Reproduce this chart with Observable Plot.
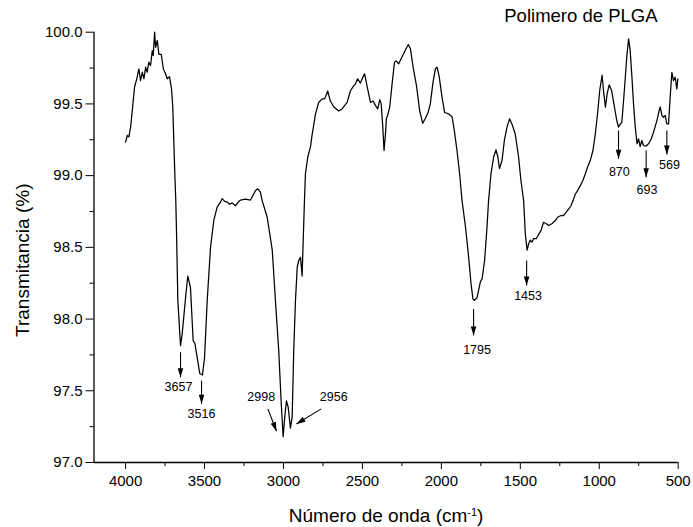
<!DOCTYPE html>
<html><head><meta charset="utf-8">
<script src="https://cdn.jsdelivr.net/npm/d3@7"></script>
<script src="https://cdn.jsdelivr.net/npm/@observablehq/plot@0.6"></script>
<style>body{margin:0;background:#fff;} svg{display:block}</style>
</head><body><div id="chart"></div>
<script>
const wavenumber = [4000,3989,3979,3968,3958,3943,3930,3916,3905,3894,3884,3873,3863,3853,3842,3831,3825,3816,3810,3799,3789,3774,3761,3747,3736,3722,3709,3701,3694,3688,3682,
3677,3669,3652,3641,3620,3606,3589,3572,3561,3546,3530,3513,3500,3483,3462,3441,3420,3399,3388,3372,3356,3340,3325,3304,3283,3272,3241,3209,3177,3163,3146,3135,
3103,3071,3051,3030,3015,3002,2992,2981,2970,2956,2945,2935,2924,2913,2903,2892,2882,2875,2867,2861,2846,2829,2818,2797,2777,2755,2739,2720,2703,2682,2650,2629,
2597,2576,2559,2544,2530,2513,2496,2486,2470,2449,2432,2418,2403,2390,2381,2371,2363,2354,2348,2340,2327,2312,2297,2287,2270,2255,2239,2224,2209,2196,2179,2158,
2137,2118,2101,2084,2070,2053,2038,2027,2013,1996,1979,1954,1932,1918,1901,1884,1869,1847,1827,1812,1800,1790,1774,1753,1742,1726,1711,1701,1686,1669,1654,1642,
1632,1616,1601,1584,1568,1553,1532,1511,1496,1479,1468,1457,1447,1437,1426,1416,1399,1384,1369,1353,1335,1321,1300,1278,1264,1242,1226,1209,1192,1179,1166,1152,
1137,1120,1104,1089,1074,1057,1040,1025,1011,997,982,972,961,950,937,922,911,900,889,878,867,857,846,835,825,814,804,793,783,772,761,751,741,730,720,705,688,673,
660,650,635,620,614,603,593,582,572,561,551,540,530,519,509,502];
const transmittance = [99.233,99.28,99.27,99.34,99.45,99.62,99.67,99.745,99.663,99.721,99.675,99.756,99.721,99.791,99.768,99.872,99.838,100.0,99.895,99.942,99.845,99.845,99.745,99.71,99.675,99.69,99.605,99.477,99.22,99.01,98.826,
98.59,98.13,97.815,97.90,98.15,98.30,98.22,97.85,97.83,97.73,97.62,97.61,97.73,98.13,98.50,98.69,98.78,98.815,98.84,98.82,98.815,98.80,98.81,98.79,98.82,98.83,98.837,98.83,98.896,98.908,98.885,98.826,
98.71,98.48,98.13,97.78,97.43,97.18,97.316,97.43,97.385,97.24,97.316,97.78,98.13,98.36,98.41,98.43,98.30,98.55,98.826,99.01,99.13,99.20,99.29,99.43,99.51,99.535,99.535,99.59,99.52,99.48,99.45,99.465,
99.51,99.59,99.62,99.64,99.675,99.645,99.69,99.71,99.62,99.51,99.52,99.49,99.465,99.53,99.50,99.34,99.175,99.29,99.40,99.42,99.48,99.64,99.79,99.80,99.78,99.815,99.85,99.885,99.914,99.885,99.756,99.63,
99.45,99.365,99.40,99.44,99.50,99.65,99.745,99.756,99.686,99.547,99.44,99.43,99.41,99.315,99.175,99.01,98.826,98.64,98.43,98.245,98.14,98.13,98.15,98.26,98.28,98.41,98.64,98.826,99.01,99.13,99.18,99.13,
99.05,99.105,99.245,99.34,99.396,99.36,99.29,99.13,98.966,98.826,98.59,98.48,98.525,98.55,98.536,98.56,98.56,98.59,98.617,98.675,98.665,98.652,98.665,98.687,98.71,98.722,98.722,98.745,98.77,98.79,98.826,98.87,
98.896,98.93,98.966,99.01,99.06,99.105,99.175,99.29,99.43,99.594,99.70,99.58,99.477,99.57,99.633,99.594,99.524,99.454,99.384,99.338,99.36,99.37,99.524,99.686,99.838,99.954,99.87,99.686,99.50,99.338,99.222,99.257,99.203,99.245,99.21,99.205,99.222,99.25,
99.29,99.326,99.384,99.454,99.48,99.42,99.407,99.42,99.36,99.36,99.547,99.72,99.663,99.686,99.605,99.675];

const xTicks = [4000,3500,3000,2500,2000,1500,1000,500];
const xMinor = [3750,3250,2750,2250,1750,1250,750];
const yTicks = [97,97.5,98,98.5,99,99.5,100];
const yMinor = [97.25,97.75,98.25,98.75,99.25,99.75];

const peakLabels = ["3657","3516","2998","2956","1795","1453","870","693","569"];
const peakLabelX = [3665,3519,3141,2682,1774,1451,873,698,555];
const peakLabelY = [97.524,97.339,97.460,97.460,97.787,98.164,99.024,98.901,99.075];
const arrowX1 = [3652,3519,3099,2761,1796,1460,878,703,572];
const arrowY1 = [97.769,97.571,97.374,97.374,98.071,98.408,99.315,99.175,99.315];
const arrowX2 = [3652,3519,3044,2918,1796,1460,878,703,572];
const arrowY2 = [97.594,97.409,97.218,97.269,97.885,98.234,99.117,98.989,99.147];

const titleText = "Polimero de PLGA";
const xTitle = "Número de onda (cm-1)";
const yTitle = "Transmitancia (%)";
const yTitlePos = {x: 4653, y: 98.41};

const W = 693, H = 527, ML = 93.5, MR = 15.3, MT = 31.7, MB = 65;
const xDomain = [4200, 500], yDomain = [97, 100];

const spectrum = wavenumber.map((w, i) => ({w, t: transmittance[i]}));
const peaks = peakLabels.map((label, i) => ({label, lx: peakLabelX[i], ly: peakLabelY[i],
  x1: arrowX1[i], y1: arrowY1[i], x2: arrowX2[i], y2: arrowY2[i]}));

const sx = Plot.scale({x: {domain: xDomain, range: [ML, W - MR]}});
const sy = Plot.scale({y: {domain: yDomain, range: [H - MB, MT]}});
peaks.forEach(p => {
  const dx = sx.apply(p.x2) - sx.apply(p.x1);
  const dy = sy.apply(p.y2) - sy.apply(p.y1);
  p.angle = Math.atan2(dx, -dy) * 180 / Math.PI;
});

const headSymbol = {
  draw(ctx) {
    ctx.moveTo(0, 0);
    ctx.lineTo(-2.8, 9);
    ctx.lineTo(2.8, 9);
    ctx.closePath();
  }
};

const font = "'Liberation Sans', Arial, Helvetica, sans-serif";

const chart = Plot.plot({
  width: W, height: H,
  marginLeft: ML, marginRight: MR, marginTop: MT, marginBottom: MB,
  style: {fontFamily: font, background: "#fff", color: "#000"},
  x: {domain: xDomain},
  y: {domain: yDomain},
  marks: [
    Plot.axisX({ticks: xTicks, tickSize: 7, tickPadding: 6, fontSize: 15, label: null, tickFormat: d3.format("d")}),
    Plot.axisX({ticks: xMinor, tickSize: 4, text: null, label: null}),
    Plot.axisY({ticks: yTicks, tickSize: 8, tickPadding: 3.5, fontSize: 15, label: null, tickFormat: d3.format(".1f")}),
    Plot.axisY({ticks: yMinor, tickSize: 4, text: null, label: null}),
    Plot.ruleY([97], {stroke: "#000", strokeWidth: 1.3}),
    Plot.ruleX([4200], {stroke: "#000", strokeWidth: 1.3}),
    Plot.line(spectrum, {x: "w", y: "t", stroke: "#000", strokeWidth: 1.25}),
    Plot.link(peaks, {x1: "x1", y1: "y1", x2: "x2", y2: "y2", stroke: "#000", strokeWidth: 1.1}),
    Plot.dot(peaks, {x: "x2", y: "y2", symbol: headSymbol, rotate: "angle", fill: "#000", stroke: "none"}),
    Plot.text(peaks, {x: "lx", y: "ly", text: "label", fontSize: 12.5, fill: "#000", lineAnchor: "middle"}),
    Plot.text([titleText], {frameAnchor: "top-right", textAnchor: "end", dx: -20.7, dy: -16, fontSize: 18.5, lineAnchor: "middle", fill: "#000"}),
    Plot.text([xTitle], {frameAnchor: "bottom", dy: 53, fontSize: 19, lineAnchor: "middle", fill: "#000"}),
    Plot.text([yTitle], {x: () => yTitlePos.x, y: () => yTitlePos.y, rotate: -90, fontSize: 19, lineAnchor: "middle", fill: "#000"})
  ]
});
document.getElementById("chart").append(chart);

d3.select(chart).selectAll("text").filter(function() { return this.textContent === xTitle; })
  .each(function() {
    const t = d3.select(this);
    t.text(null);
    t.append("tspan").text("Número de onda (cm");
    t.append("tspan").attr("baseline-shift", "super").attr("font-size", "11px").text("-1");
    t.append("tspan").text(")");
  });
</script>
</body></html>
